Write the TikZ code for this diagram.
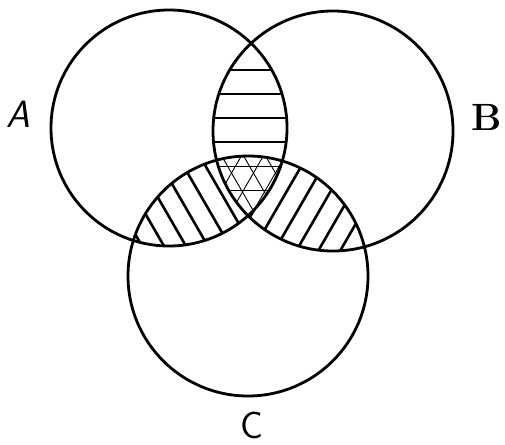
\documentclass[tikz,border=0pt]{standalone}
\begin{document}
\begin{tikzpicture}[x=1pt,y=-1pt,line cap=round,
  ring/.style={line width=2.8pt},
  hatch/.style={line width=2.6pt},
  thinhatch/.style={line width=0.9pt},
  lab/.style={inner sep=0pt}]
\useasboundingbox (0,0) rectangle (505,444);
\coordinate (cA) at (169,128);
\coordinate (cB) at (333,131);
\coordinate (cC) at (248,276);
% A and B: horizontal lines
\begin{scope}
  \clip (cA) circle[radius=118];
  \clip (cB) circle[radius=120];
  \foreach \y in {70,94,118,142} \draw[hatch] (150,\y) -- (350,\y);
\end{scope}
% A and C: falling lines
\begin{scope}
  \clip (cA) circle[radius=118];
  \clip (cC) circle[radius=120];
  \foreach \c in {0,19,...,171}
    \draw[hatch] ({0.866*\c+50},{-0.5*\c+86.6}) -- ({0.866*\c+225},{-0.5*\c+389.7});
\end{scope}
% B and C: rising lines
\begin{scope}
  \clip (cB) circle[radius=120];
  \clip (cC) circle[radius=120];
  \foreach \c in {-439,-420,...,-250}
    \draw[hatch] ({-0.866*\c+75},{-0.5*\c-129.9}) -- ({-0.866*\c-100},{-0.5*\c+173.2});
\end{scope}
% A, B and C: fine lines of all three sets
\begin{scope}
  \clip (cA) circle[radius=118];
  \clip (cB) circle[radius=120];
  \clip (cC) circle[radius=120];
  \fill[white] (100,100) rectangle (400,260);
  \foreach \y in {166,190,214} \draw[thinhatch] (150,\y) -- (350,\y);
  \foreach \c in {0,19,...,171}
    \draw[thinhatch] ({0.866*\c+50},{-0.5*\c+86.6}) -- ({0.866*\c+225},{-0.5*\c+389.7});
  \foreach \c in {-439,-420,...,-250}
    \draw[thinhatch] ({-0.866*\c+75},{-0.5*\c-129.9}) -- ({-0.866*\c-100},{-0.5*\c+173.2});
\end{scope}
% circles
\draw[ring] (cA) circle[radius=118];
\draw[ring] (cB) circle[radius=120];
\draw[ring] (cC) circle[radius=120];
% labels
\node[lab, font=\fontsize{38}{38}\selectfont\sffamily\slshape] (la) at (18,114) {A};
\node[lab, font=\fontsize{38}{38}\selectfont\bfseries] (lb) at (487,117) {B};
\node[lab, font=\fontsize{38}{38}\selectfont\sffamily] (lc) at (252,425) {C};
\end{tikzpicture}
\end{document}
